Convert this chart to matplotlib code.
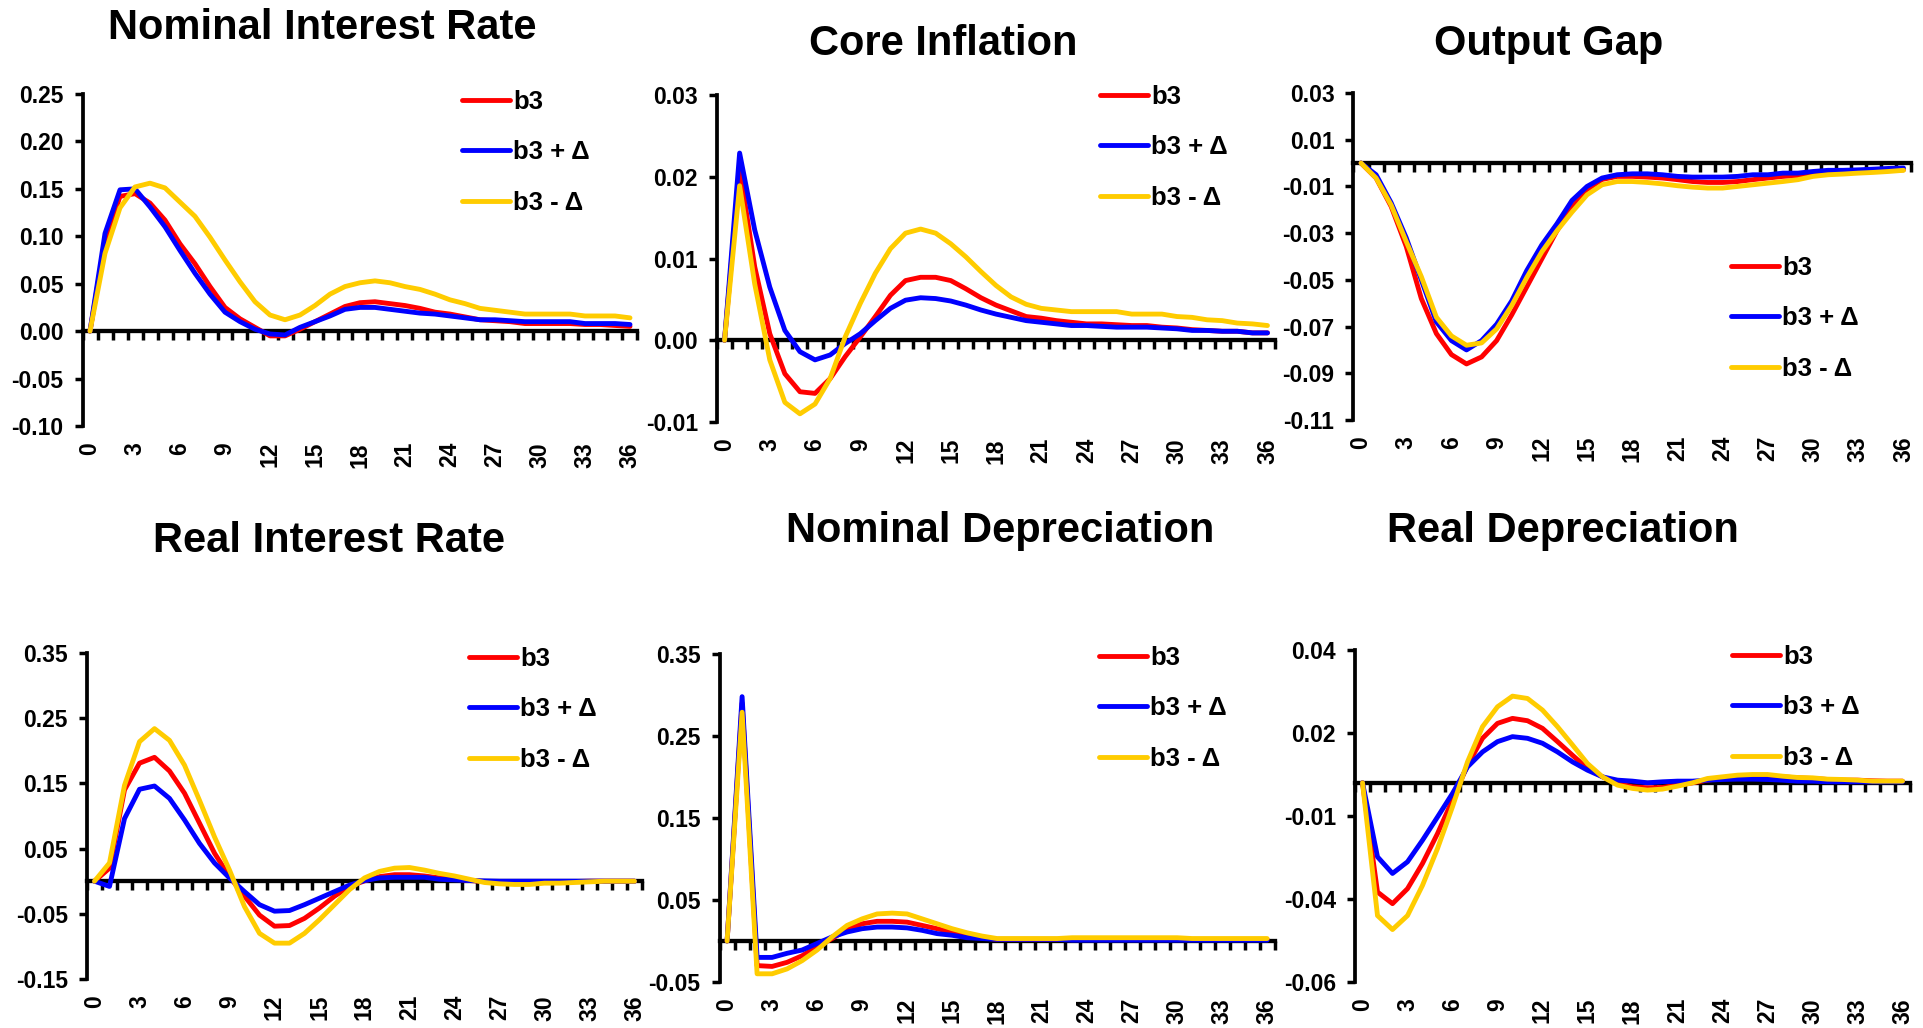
import numpy as np
import matplotlib
matplotlib.use("Agg")
import matplotlib.pyplot as plt
from matplotlib.ticker import FixedLocator, FixedFormatter

plt.rcParams['font.family'] = ['Liberation Sans', 'DejaVu Sans']
plt.rcParams['font.weight'] = 'bold'

periods = list(range(37))
xtick_labels = [str(v) for v in range(0, 37, 3)]
series_names = ["b3", "b3 + Δ", "b3 - Δ"]
series_colors = ["#FF0000", "#0000FF", "#FFCC00"]

titles = ["Nominal Interest Rate", "Core Inflation", "Output Gap",
          "Real Interest Rate", "Nominal Depreciation", "Real Depreciation"]

# ---- Nominal Interest Rate ----
nir_b3 = [0, 0.095, 0.142, 0.145, 0.135, 0.117, 0.092, 0.071, 0.047, 0.025, 0.013, 0.004,
          -0.005, -0.005, 0.002, 0.010, 0.018, 0.026, 0.030, 0.031, 0.029, 0.027, 0.024,
          0.020, 0.018, 0.015, 0.012, 0.011, 0.010, 0.008, 0.008, 0.008, 0.008, 0.007,
          0.007, 0.006, 0.005]
nir_plus = [0, 0.103, 0.149, 0.150, 0.131, 0.110, 0.085, 0.061, 0.039, 0.020, 0.010, 0.002,
            -0.003, -0.004, 0.004, 0.010, 0.016, 0.023, 0.025, 0.025, 0.023, 0.021, 0.019,
            0.018, 0.016, 0.014, 0.012, 0.012, 0.011, 0.010, 0.010, 0.010, 0.010, 0.008,
            0.008, 0.008, 0.007]
nir_minus = [0, 0.082, 0.130, 0.152, 0.156, 0.151, 0.136, 0.121, 0.099, 0.075, 0.052, 0.031,
             0.017, 0.012, 0.017, 0.027, 0.039, 0.047, 0.051, 0.053, 0.051, 0.047, 0.044,
             0.039, 0.033, 0.029, 0.024, 0.022, 0.020, 0.018, 0.018, 0.018, 0.018, 0.016,
             0.016, 0.016, 0.014]
nir_yticks = [-0.10, -0.05, 0.00, 0.05, 0.10, 0.15, 0.20, 0.25]
nir_ylabels = ["-0.10", "-0.05", "0.00", "0.05", "0.10", "0.15", "0.20", "0.25"]

# ---- Core Inflation ----
ci_b3 = [0, 0.0210, 0.0090, 0.0008, -0.0041, -0.0063, -0.0065, -0.0047, -0.0020, 0.0004,
         0.0029, 0.0055, 0.0073, 0.0077, 0.0077, 0.0073, 0.0063, 0.0052, 0.0043, 0.0036,
         0.0029, 0.0027, 0.0024, 0.0022, 0.0020, 0.0020, 0.0019, 0.0018, 0.0018, 0.0016,
         0.0015, 0.0013, 0.0012, 0.0011, 0.0011, 0.0009, 0.0009]
ci_plus = [0, 0.0229, 0.0135, 0.0065, 0.0012, -0.0014, -0.0024, -0.0018, -0.0004, 0.0008,
           0.0024, 0.0039, 0.0049, 0.0052, 0.0051, 0.0048, 0.0043, 0.0037, 0.0032, 0.0028,
           0.0024, 0.0022, 0.0020, 0.0018, 0.0018, 0.0017, 0.0016, 0.0016, 0.0016, 0.0015,
           0.0014, 0.0012, 0.0012, 0.0011, 0.0011, 0.0009, 0.0009]
ci_minus = [0, 0.0189, 0.0069, -0.0024, -0.0076, -0.0090, -0.0078, -0.0047, 0.0004, 0.0045,
            0.0082, 0.0112, 0.0131, 0.0136, 0.0131, 0.0118, 0.0102, 0.0084, 0.0067, 0.0053,
            0.0044, 0.0039, 0.0037, 0.0035, 0.0035, 0.0035, 0.0035, 0.0032, 0.0032, 0.0032,
            0.0029, 0.0028, 0.0025, 0.0024, 0.0021, 0.0020, 0.0018]
ci_yticks = [-0.01, 0.00, 0.01, 0.02, 0.03]
ci_ylabels = ["-0.01", "0.00", "0.01", "0.02", "0.03"]

# ---- Output Gap ----
og_b3 = [0, -0.0064, -0.0186, -0.0357, -0.058, -0.073, -0.082, -0.086, -0.083, -0.076,
         -0.065, -0.053, -0.041, -0.029, -0.019, -0.0114, -0.0070, -0.0057, -0.0057, -0.0060,
         -0.0064, -0.0071, -0.0079, -0.0083, -0.0083, -0.0079, -0.0071, -0.0064, -0.0057,
         -0.0054, -0.0046, -0.0043, -0.0040, -0.0036, -0.0033, -0.0030, -0.0029]
og_plus = [0, -0.0050, -0.017, -0.032, -0.050, -0.068, -0.076, -0.080, -0.076, -0.069,
           -0.059, -0.046, -0.035, -0.026, -0.016, -0.0100, -0.0064, -0.0050, -0.0046, -0.0046,
           -0.0050, -0.0057, -0.0060, -0.0060, -0.0060, -0.0057, -0.0050, -0.0050, -0.0043,
           -0.0043, -0.0036, -0.0031, -0.0031, -0.0029, -0.0026, -0.0023, -0.0021]
og_minus = [0, -0.0064, -0.018, -0.0336, -0.0486, -0.066, -0.074, -0.078, -0.077, -0.071,
            -0.061, -0.049, -0.038, -0.029, -0.021, -0.0136, -0.0093, -0.0079, -0.0079, -0.0083,
            -0.0089, -0.0097, -0.0103, -0.0107, -0.0107, -0.0100, -0.0093, -0.0086, -0.0079,
            -0.0071, -0.0057, -0.0050, -0.0047, -0.0043, -0.0040, -0.0036, -0.0031]
og_yticks = [-0.11, -0.09, -0.07, -0.05, -0.03, -0.01, 0.01, 0.03]
og_ylabels = ["-0.11", "-0.09", "-0.07", "-0.05", "-0.03", "-0.01", "0.01", "0.03"]

# ---- Real Interest Rate ----
rir_b3 = [0, 0.020, 0.140, 0.181, 0.190, 0.169, 0.135, 0.089, 0.043, 0.007, -0.023, -0.052,
          -0.069, -0.068, -0.057, -0.041, -0.023, -0.008, 0.0005, 0.007, 0.010, 0.010, 0.008,
          0.005, 0.003, 0.001, -0.0005, -0.001, -0.001, -0.001, -0.001, -0.0005, -0.0005,
          0, 0, 0, 0]
rir_plus = [0, -0.008, 0.096, 0.141, 0.146, 0.127, 0.094, 0.058, 0.028, 0.005, -0.016,
            -0.036, -0.046, -0.045, -0.036, -0.026, -0.016, -0.006, 0.001, 0.005, 0.006,
            0.006, 0.006, 0.003, 0.002, 0.001, 0.0005, 0, 0, 0, 0, 0, 0, 0, 0, 0, 0]
rir_minus = [0, 0.028, 0.147, 0.214, 0.234, 0.216, 0.178, 0.124, 0.068, 0.017, -0.039,
             -0.080, -0.095, -0.095, -0.080, -0.059, -0.036, -0.013, 0.005, 0.015, 0.020,
             0.021, 0.017, 0.012, 0.008, 0.003, -0.002, -0.004, -0.005, -0.005, -0.003,
             -0.003, -0.002, -0.001, 0, 0, 0]
rir_yticks = [-0.15, -0.05, 0.05, 0.15, 0.25, 0.35]
rir_ylabels = ["-0.15", "-0.05", "0.05", "0.15", "0.25", "0.35"]

# ---- Nominal Depreciation ----
nd_b3 = [0, 0.290, -0.030, -0.031, -0.026, -0.018, -0.007, 0.003, 0.014, 0.021, 0.024, 0.024,
         0.023, 0.019, 0.015, 0.011, 0.007, 0.004, 0.002, 0.002, 0.002, 0.002, 0.002, 0.002,
         0.002, 0.002, 0.002, 0.002, 0.002, 0.002, 0.002, 0.002, 0.002, 0.002, 0.002, 0.002,
         0.002]
nd_plus = [0, 0.298, -0.020, -0.020, -0.015, -0.011, -0.003, 0.005, 0.011, 0.015, 0.017,
           0.017, 0.016, 0.013, 0.009, 0.007, 0.004, 0.003, 0.002, 0.002, 0.002, 0.002, 0.002,
           0.001, 0.001, 0.001, 0.001, 0.001, 0.001, 0.001, 0.001, 0.001, 0.001, 0.001, 0.001,
           0.001, 0.001]
nd_minus = [0, 0.279, -0.040, -0.040, -0.034, -0.024, -0.011, 0.005, 0.019, 0.027, 0.033,
            0.034, 0.033, 0.027, 0.021, 0.015, 0.010, 0.006, 0.003, 0.003, 0.003, 0.003, 0.003,
            0.004, 0.004, 0.004, 0.004, 0.004, 0.004, 0.004, 0.004, 0.003, 0.003, 0.003, 0.003,
            0.003, 0.003]
nd_yticks = [-0.05, 0.05, 0.15, 0.25, 0.35]
nd_ylabels = ["-0.05", "0.05", "0.15", "0.25", "0.35"]

# ---- Real Depreciation ----
rd_b3 = [0, -0.0329, -0.0364, -0.0319, -0.0243, -0.0153, -0.0052, 0.0053, 0.0134, 0.0179,
         0.0194, 0.0187, 0.0164, 0.0124, 0.0083, 0.0043, 0.0018, -0.0002, -0.0012, -0.0015,
         -0.0014, -0.0007, 0.0, 0.0008, 0.0013, 0.0018, 0.0020, 0.0020, 0.0018, 0.0015,
         0.0013, 0.0010, 0.0008, 0.0008, 0.0006, 0.0005, 0.0005]
rd_plus = [0, -0.0223, -0.0273, -0.0238, -0.0173, -0.0103, -0.0032, 0.0048, 0.0093, 0.0124,
           0.0139, 0.0134, 0.0119, 0.0093, 0.0063, 0.0038, 0.0018, 0.0008, 0.0005, 0.0,
           0.0003, 0.0005, 0.0005, 0.0008, 0.0010, 0.0011, 0.0011, 0.0010, 0.0008, 0.0005,
           0.0005, 0.0003, 0.0003, 0.0003, 0.0003, 0.0003, 0.0003]
rd_minus = [0, -0.0400, -0.0442, -0.0400, -0.0309, -0.0198, -0.0072, 0.0063, 0.0169, 0.0229,
            0.0261, 0.0254, 0.0219, 0.0169, 0.0114, 0.0058, 0.0018, -0.0007, -0.0017, -0.0022,
            -0.0019, -0.0010, 0.0, 0.0013, 0.0018, 0.0023, 0.0025, 0.0025, 0.0020, 0.0016,
            0.0015, 0.0011, 0.0010, 0.0008, 0.0005, 0.0005, 0.0005]
rd_yticks = [-0.06, -0.035, -0.01, 0.015, 0.04]
rd_ylabels = ["-0.06", "-0.04", "-0.01", "0.02", "0.04"]

panels = [
    (nir_b3, nir_plus, nir_minus, nir_yticks, nir_ylabels),
    (ci_b3, ci_plus, ci_minus, ci_yticks, ci_ylabels),
    (og_b3, og_plus, og_minus, og_yticks, og_ylabels),
    (rir_b3, rir_plus, rir_minus, rir_yticks, rir_ylabels),
    (nd_b3, nd_plus, nd_minus, nd_yticks, nd_ylabels),
    (rd_b3, rd_plus, rd_minus, rd_yticks, rd_ylabels),
]

# layout (pixels in a 1924 x 1028 canvas)
W, H = 1924, 1028
axes_px = [(82.5, 637.5, 94, 426), (717, 1275, 95, 422), (1353.5, 1911, 93, 420),
           (87, 642, 653, 979), (719.6, 1274.6, 654, 982), (1355, 1910, 650, 982)]
title_px = [(322, 28), (943, 44), (1549, 44), (329, 541), (1000, 531), (1563, 531)]
legend_px = [(462, 102), (1100, 97), (1731, 268), (469, 659), (1099, 658), (1732, 657)]

fig = plt.figure(figsize=(W / 100, H / 100), dpi=100)

TICK_FS = 16.5
LEG_FS = 18.5
LW = 3.5
px2pt = 72 / 100

for i, (b3, plus, minus, yt, yl) in enumerate(panels):
    L, R, T, B = axes_px[i]
    ax = fig.add_axes([L / W, 1 - B / H, (R - L) / W, (B - T) / H])
    for vals, name, col in zip((b3, plus, minus), series_names, series_colors):
        ax.plot(periods, vals, color=col, lw=LW, label=name, solid_joinstyle='round',
                solid_capstyle='round', zorder=3)
    ax.set_xlim(-0.5, 36.5)
    ax.set_ylim(yt[0], yt[-1])
    ax.yaxis.set_major_locator(FixedLocator(yt))
    ax.yaxis.set_major_formatter(FixedFormatter(yl))
    ax.tick_params(axis='y', direction='out', length=8 * px2pt, width=2.5, pad=8,
                   labelsize=TICK_FS)
    for lab in ax.get_yticklabels():
        lab.set_fontweight('bold')
    ax.spines['top'].set_visible(False)
    ax.spines['right'].set_visible(False)
    ax.spines['left'].set_linewidth(2.7)
    ax.spines['bottom'].set_position(('data', 0))
    ax.spines['bottom'].set_linewidth(3.1)
    ax.spines['bottom'].set_zorder(2)
    ax.set_xticks(np.arange(-0.5, 37, 1.0))
    ax.tick_params(axis='x', direction='out', length=9 * px2pt, width=2.5,
                   labelbottom=False)
    sec = ax.secondary_xaxis('bottom')
    sec.set_xticks(list(range(0, 37, 3)), labels=xtick_labels)
    sec.tick_params(axis='x', length=0, pad=16 * px2pt, labelrotation=90,
                    labelsize=TICK_FS)
    for lab in sec.get_xticklabels():
        lab.set_fontweight('bold')
    sec.spines['bottom'].set_visible(False)
    sec.spines['top'].set_visible(False)

    lx, ly = legend_px[i]
    fs_px = LEG_FS * 100 / 72
    row_h = 0.97 * fs_px
    ax.legend(loc='upper left', bbox_to_anchor=(lx / W, 1 - (ly - row_h / 2) / H),
              bbox_transform=fig.transFigure, frameon=False, borderpad=0,
              borderaxespad=0, handlelength=1.85, handletextpad=0.15,
              labelspacing=(51.5 - row_h) / fs_px,
              prop={'size': LEG_FS, 'weight': 'bold'})

    tx, ty = title_px[i]
    fig.text(tx / W, 1 - ty / H, titles[i], ha='center', va='center', fontsize=30,
             fontweight='bold')

fig.savefig("out.png", dpi=100)
